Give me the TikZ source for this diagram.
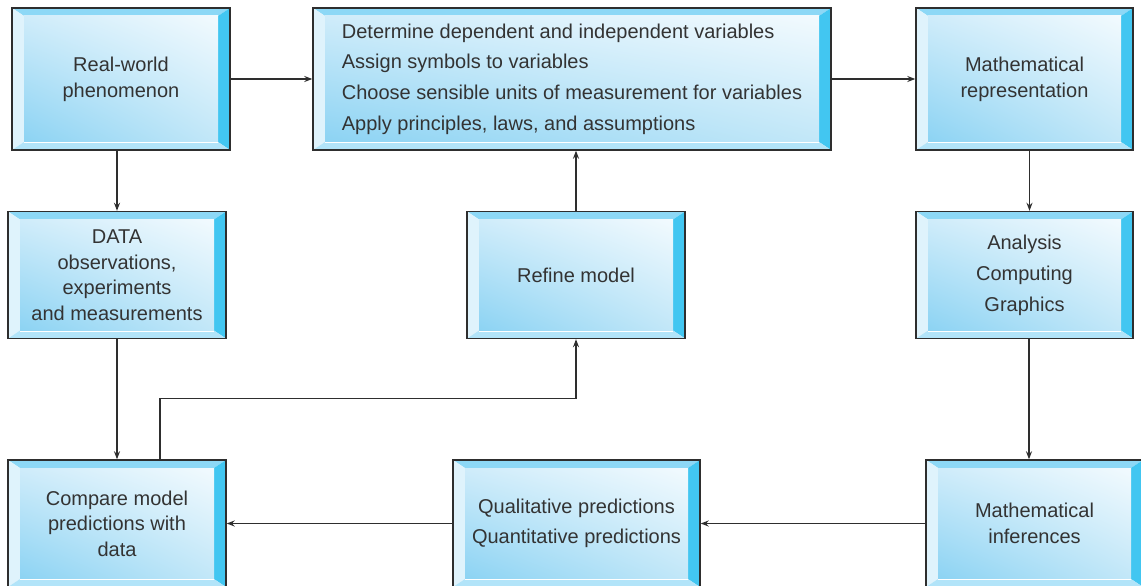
\documentclass[tikz,border=0pt]{standalone}
\usepackage{fontspec}
\setmainfont{Liberation Sans}
\usetikzlibrary{arrows.meta,calc,shadings}
\definecolor{edge}{HTML}{2E2E2E}
\definecolor{txt}{HTML}{333333}
\definecolor{bevT}{HTML}{8DD8F6}
\definecolor{bevL}{HTML}{DFF3FC}
\definecolor{bevR}{HTML}{42C6F1}
\definecolor{bevB}{HTML}{B2E4F9}
\definecolor{faceUR}{HTML}{F2FAFE}
\definecolor{faceLL}{HTML}{8CD3F3}
\definecolor{faceUL}{HTML}{CFECFA}
\definecolor{faceLR}{HTML}{C2E7F8}
\tikzset{
  box/.style={draw=edge, line width=1.4pt, inner sep=0pt, align=center,
    text=txt, font=\fontsize{20}{26}\selectfont,
    path picture={
      \coordinate (@sw) at (path picture bounding box.south west);
      \coordinate (@ne) at (path picture bounding box.north east);
      \coordinate (@nw) at (@sw |- @ne);
      \coordinate (@se) at (@ne |- @sw);
      \coordinate (@isw) at ([shift={(12pt,8pt)}]@sw);
      \coordinate (@ine) at ([shift={(-12pt,-8pt)}]@ne);
      \coordinate (@inw) at ([shift={(12pt,-8pt)}]@nw);
      \coordinate (@ise) at ([shift={(-12pt,8pt)}]@se);
      \fill[bevT] (@nw) -- (@ne) -- (@ine) -- (@inw) -- cycle;
      \fill[bevL] (@nw) -- (@inw) -- (@isw) -- (@sw) -- cycle;
      \fill[bevR] (@ne) -- (@se) -- (@ise) -- (@ine) -- cycle;
      \fill[bevB] (@sw) -- (@isw) -- (@ise) -- (@se) -- cycle;
      \shade[upper right=faceUR, lower left=faceLL, upper left=faceUL, lower right=faceLR]
        (@isw) rectangle (@ine);
      \draw[white, line width=1.2pt] ([yshift=-0.6pt]@isw) -- ([yshift=-0.6pt]@ise);
    }},
  arr/.style={draw=edge, line width=1.3pt, -{Stealth[length=8pt,width=6pt]}}
}
\begin{document}
\begin{tikzpicture}[x=1pt,y=1pt]
\clip (0,0) rectangle (1141,-586);
\fill[white] (0,0) rectangle (1141,-586);
% top row
\node[box, minimum width=218pt, minimum height=142pt] (real) at (121,-79)
  {Real-world\\phenomenon};
\node[box, minimum width=518pt, minimum height=142pt, align=left,
  font=\fontsize{20}{30.7}\selectfont] (model) at (572,-79)
  {\rule{0pt}{0pt}\raisebox{-2pt}{Determine dependent and independent variables}\\
   \raisebox{-2pt}{Assign symbols to variables}\\
   \raisebox{-2pt}{Choose sensible units of measurement for variables}\\
   \raisebox{-2pt}{Apply principles, laws, and assumptions}};
\node[box, minimum width=217pt, minimum height=142pt] (rep) at (1024.5,-79)
  {Mathematical\\representation};
% middle row
\node[box, minimum width=218pt, minimum height=127pt,
  font=\fontsize{20}{25.5}\selectfont] (data) at (117,-275)
  {DATA\\observations,\\experiments\\and measurements};
\node[box, minimum width=218pt, minimum height=127pt] (refine) at (576,-275)
  {Refine model};
\node[box, minimum width=217pt, minimum height=127pt,
  font=\fontsize{20}{31}\selectfont] (anal) at (1024.5,-275)
  {Analysis\\Computing\\Graphics};
% bottom row
\node[box, minimum width=218pt, minimum height=127pt,
  font=\fontsize{20}{25.5}\selectfont] (comp) at (117,-523.5)
  {Compare model\\predictions with\\data};
\node[box, minimum width=247pt, minimum height=127pt,
  font=\fontsize{20}{30}\selectfont] (qual) at (576.5,-523.5)
  {Qualitative predictions\\Quantitative predictions};
\node[box, minimum width=217pt, minimum height=127pt,
  font=\fontsize{20}{25.5}\selectfont] (infer) at (1034.5,-523.5)
  {Mathematical\\inferences};
% connectors
\draw[arr] (real.east) -- (model.west);
\draw[arr] (model.east) -- (rep.west);
\draw[arr] (data.north |- real.south) -- (data.north);
\draw[arr] ([xshift=5pt]rep.south) -- ([xshift=5pt]anal.north);
\draw[arr] ([xshift=-5.5pt]infer.north |- anal.south) -- ([xshift=-5.5pt]infer.north);
\draw[arr] (infer.west) -- (qual.east);
\draw[arr] (qual.west) -- (comp.east);
\draw[arr] (data.south) -- (comp.north);
\draw[arr] ([xshift=43pt]comp.north) -- ++(0,61) -| (refine.south);
\draw[arr] (refine.north) -- (refine.north |- model.south);
\end{tikzpicture}
\end{document}
